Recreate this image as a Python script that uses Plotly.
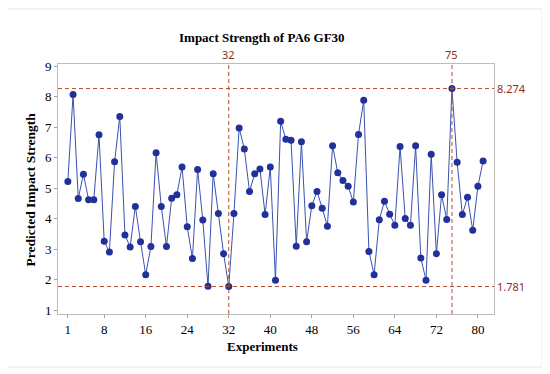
import plotly.graph_objects as go

experiments = list(range(1, 82))
impact = [5.23, 8.08, 4.67, 5.46, 4.63, 4.63, 6.76, 3.27, 2.91, 5.87,
          7.36, 3.47, 3.08, 4.41, 3.25, 2.17, 3.09, 6.17, 4.41, 3.09,
          4.68, 4.79, 5.70, 3.74, 2.70, 5.62, 3.96, 1.79, 5.48, 4.18,
          2.86, 1.781, 4.18, 6.98, 6.29, 4.90, 5.48, 5.64, 4.14, 5.70,
          1.99, 7.20, 6.61, 6.58, 3.10, 6.53, 3.25, 4.43, 4.90, 4.35,
          3.76, 6.40, 5.51, 5.26, 5.07, 4.55, 6.77, 7.89, 2.93, 2.17,
          3.97, 4.58, 4.15, 3.79, 6.37, 4.01, 3.79, 6.40, 2.72, 1.99,
          6.12, 2.86, 4.79, 3.98, 8.274, 5.86, 4.14, 4.71, 3.63, 5.07,
          5.90]
x_ticks = [1, 8, 16, 24, 32, 40, 48, 56, 64, 72, 80]
y_ticks = [1, 2, 3, 4, 5, 6, 7, 8, 9]
ref_x = [32, 75]
ref_y = [8.274, 1.781]
ref_y_labels = ["8.274", "1.781"]

REF = "#B0502F"
REF_TXT = "#8B2E1E"
SERIF = "Liberation Serif, Times New Roman, serif"

fig = go.Figure()
fig.add_trace(go.Scatter(
    x=experiments, y=impact, mode="lines+markers",
    line=dict(color="#3A52B0", width=1),
    marker=dict(color="#22309A", size=7),
    showlegend=False,
))

for xv in ref_x:
    fig.add_shape(type="line", xref="x", yref="paper", x0=xv, x1=xv, y0=0, y1=1,
                  line=dict(color=REF, width=1, dash="4px,3px"))
    fig.add_annotation(x=xv, xref="x", y=1, yref="paper", yanchor="bottom", xanchor="center",
                       text=str(xv), showarrow=False,
                       font=dict(family="Noto Sans, sans-serif", size=11, color=REF_TXT))
for yv, lab in zip(ref_y, ref_y_labels):
    fig.add_shape(type="line", xref="paper", yref="y", x0=0, x1=1, y0=yv, y1=yv,
                  line=dict(color=REF, width=1, dash="4px,3px"))
    fig.add_annotation(x=1, xref="paper", y=yv, yref="y", xanchor="left", yanchor="middle",
                       xshift=1, text=lab, showarrow=False,
                       font=dict(family="Noto Sans, sans-serif", size=11, color=REF_TXT))

# outer light frame (page coords -> paper fractions)
fig.add_shape(type="rect", xref="paper", yref="paper",
              x0=(6 - 58) / 436, x1=(542 - 58) / 436,
              y0=1 - (367 - 64) / 250, y1=1 - (9 - 64) / 250,
              line=dict(color="#E2E2E2", width=1), layer="below")

fig.add_annotation(text="<b>Impact Strength of PA6 GF30</b>", xref="paper", yref="paper",
                   x=(262 - 58) / 436, y=1 - (38 - 64) / 250, showarrow=False,
                   xanchor="center", yanchor="middle",
                   font=dict(family=SERIF, size=13, color="black"))
fig.add_annotation(text="<b>Experiments</b>", xref="paper", yref="paper",
                   x=(262 - 58) / 436, y=1 - (346 - 64) / 250, showarrow=False,
                   xanchor="center", yanchor="middle",
                   font=dict(family=SERIF, size=13, color="black"))
fig.add_annotation(text="<b>Predicted Impact Strength</b>", xref="paper", yref="paper",
                   x=(29.5 - 58) / 436, y=1 - (190 - 64) / 250, showarrow=False, textangle=-90,
                   xanchor="center", yanchor="middle",
                   font=dict(family=SERIF, size=13.5, color="black"))

fig.update_layout(
    width=550, height=374,
    margin=dict(l=50, r=64, t=56, b=68),
    paper_bgcolor="white", plot_bgcolor="white",
    xaxis=dict(range=[-0.9, 83.1], tickvals=x_ticks, ticks="outside", ticklen=3,
               tickcolor="#A0A0A0", showgrid=False, zeroline=False, showline=True,
               linecolor="#BDBDBD", linewidth=1, mirror=True,
               tickfont=dict(family=SERIF, size=13, color="black")),
    yaxis=dict(range=[0.88, 9.08], tickvals=y_ticks, ticks="outside", ticklen=3,
               tickcolor="#A0A0A0", showgrid=False, zeroline=False, showline=True,
               linecolor="#BDBDBD", linewidth=1, mirror=True,
               tickfont=dict(family=SERIF, size=13, color="black")),
)

fig.write_html("out.html")
